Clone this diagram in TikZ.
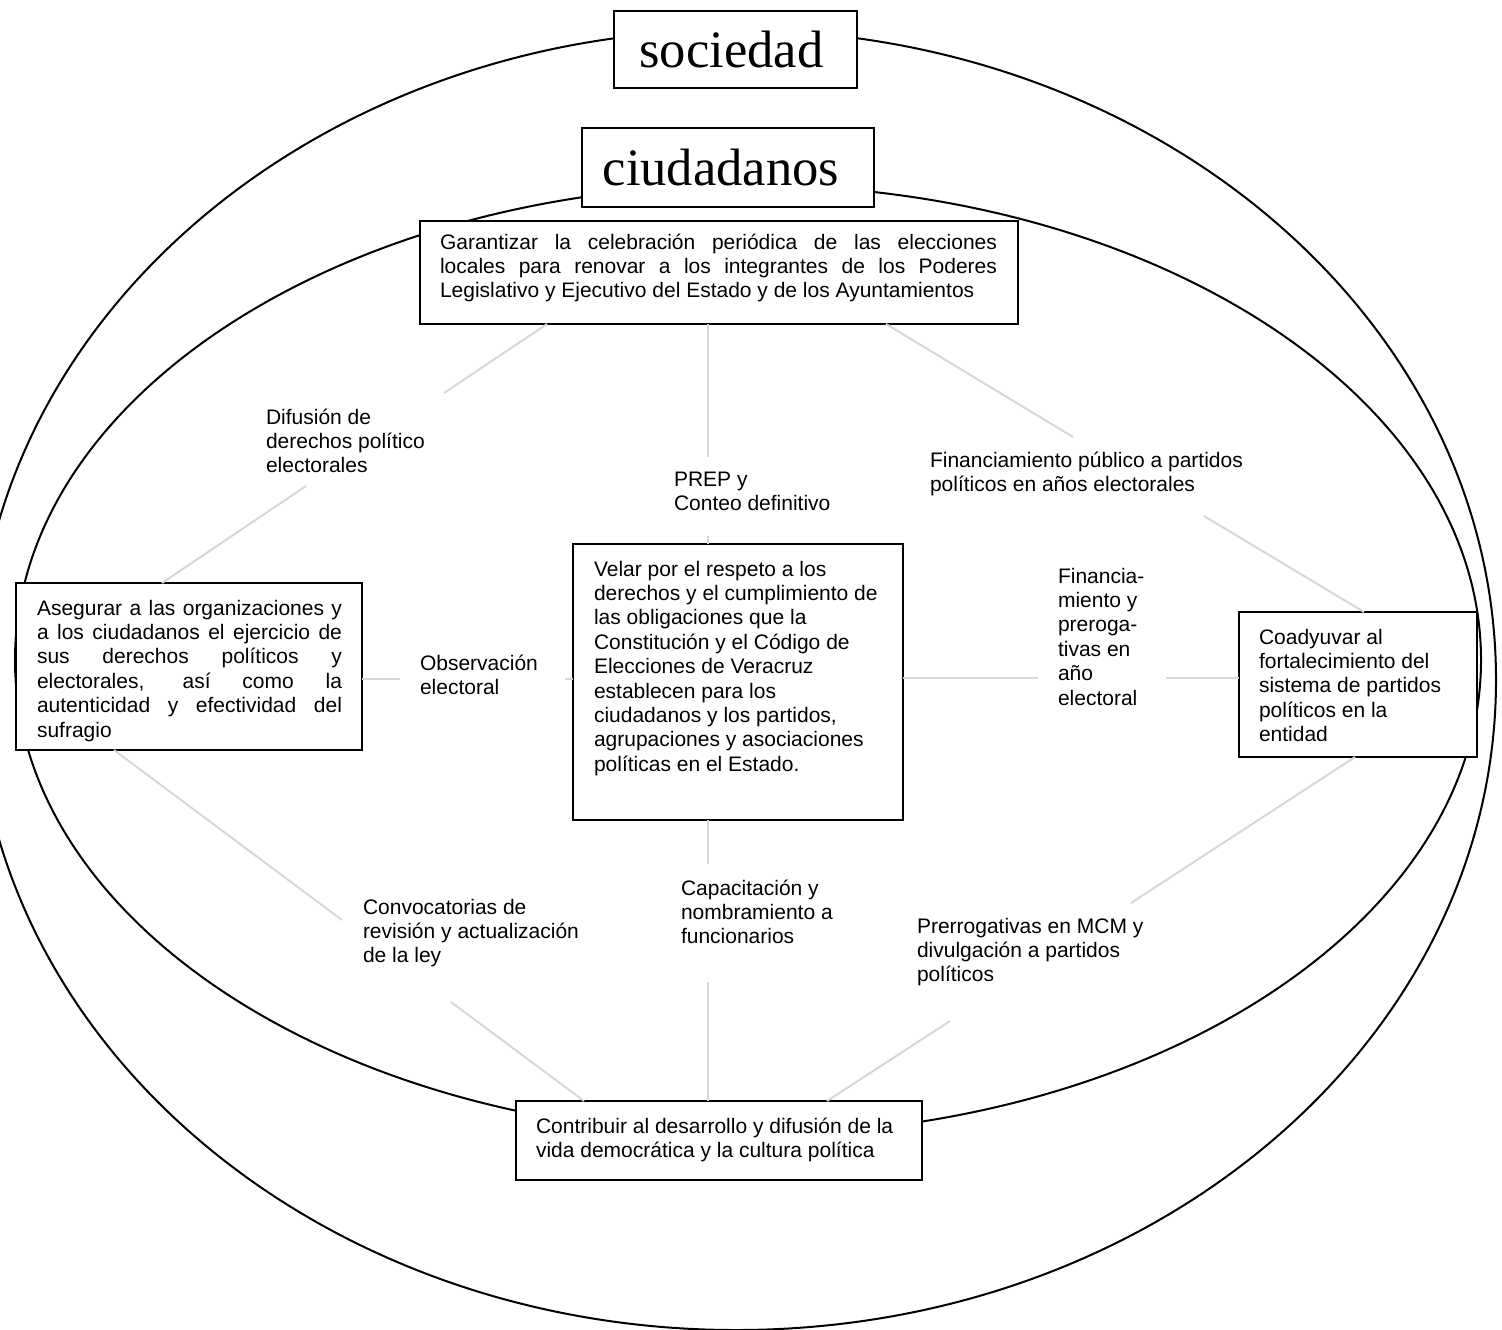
\documentclass[tikz,border=0pt]{standalone}
\usepackage{fontspec}
\setmainfont{Liberation Sans}
\newfontfamily\tmsfont{Liberation Serif}
\usetikzlibrary{calc}
\definecolor{connc}{RGB}{215,215,215}
\newcommand\fls{\rule{0pt}{10pt}}
\tolerance=10000
\hbadness=10000
\begin{document}
\begin{tikzpicture}[x=0.5pt,y=-0.5pt,
  frame/.style={draw=black, line width=1pt, fill=white, inner sep=0pt, outer sep=0pt, anchor=north west},
  txt/.style={inner sep=0pt, outer sep=0pt, anchor=north west, align=left, font=\fontsize{10.5pt}{12.2pt}\selectfont},
  jtxt/.style={txt, align=justify},
  conn/.style={draw=connc, line width=1pt},
  ring/.style={draw=black, line width=1pt},
  big/.style={font=\tmsfont\fontsize{26.3pt}{30pt}\selectfont}
]
\useasboundingbox (0,0) rectangle (1502,1329);
\fill[white] (0,0) rectangle (1502,1329);
\begin{scope}
\clip (0,0) rectangle (1502,1329);
\draw[ring] (736,680) ellipse [x radius=760, y radius=650];
\draw[ring] (748,660) ellipse [x radius=733, y radius=475];
\end{scope}

% boxes
\node[frame, minimum width=121.5pt, minimum height=38.5pt, big] (soc) at (614,11) {sociedad\hspace*{4pt}};
\node[frame, minimum width=146pt, minimum height=39.5pt, big] (ciu) at (582,128) {ciudadanos\hspace*{7pt}};
\node[frame, minimum width=299pt, minimum height=51.5pt] (gar) at (420,221) {};
\node[frame, minimum width=173pt, minimum height=83.5pt] (ase) at (16,583) {};
\node[frame, minimum width=165pt, minimum height=138pt] (vel) at (573,544) {};
\node[frame, minimum width=119pt, minimum height=72.5pt] (coa) at (1239,612) {};
\node[frame, minimum width=203pt, minimum height=39.5pt] (con) at (516,1101) {};

% free ends of the connectors (beside the labels)
\coordinate (d1) at (444,393); \coordinate (d2) at (306,486);
\coordinate (p1) at (708,457); \coordinate (p2) at (708,536);
\coordinate (f1) at (1073,437); \coordinate (f2) at (1204,516);
\coordinate (o1) at (400,679); \coordinate (o2) at (565,679);
\coordinate (n1) at (1038,678); \coordinate (n2) at (1166,678);
\coordinate (v1) at (342,920); \coordinate (v2) at (451,1002);
\coordinate (c1) at (708,864); \coordinate (c2) at (708,982);
\coordinate (r1) at (1131,903); \coordinate (r2) at (950,1021);

% connectors
\draw[conn] ($(gar.south west)+(127,0)$) -- (d1);
\draw[conn] (d2) -- ($(ase.north west)+(146,0)$);
\draw[conn] ($(gar.south west)+(288,0)$) -- (p1);
\draw[conn] (p2) -- ($(vel.north west)+(135,0)$);
\draw[conn] ($(gar.south west)+(466,0)$) -- (f1);
\draw[conn] (f2) -- ($(coa.north west)+(125,0)$);
\draw[conn] ($(ase.north east)+(0,96)$) -- (o1);
\draw[conn] (o2) -- ($(vel.north west)+(0,135)$);
\draw[conn] ($(vel.north east)+(0,134)$) -- (n1);
\draw[conn] (n2) -- ($(coa.north west)+(0,66)$);
\draw[conn] ($(ase.south west)+(98,0)$) -- (v1);
\draw[conn] (v2) -- ($(con.north west)+(68,0)$);
\draw[conn] ($(vel.south west)+(135,0)$) -- (c1);
\draw[conn] (c2) -- ($(con.north west)+(192,0)$);
\draw[conn] ($(coa.south west)+(116,0)$) -- (r1);
\draw[conn] (r2) -- ($(con.north west)+(311,0)$);

% box texts
\node[jtxt, text width=278.5pt] (gar-t) at (440,229) {\fls Garantizar la celebración periódica de las elecciones\linebreak locales para renovar a los integrantes de los Poderes\linebreak Legislativo y Ejecutivo del Estado y de los Ayuntamientos};
\node[jtxt, text width=152.5pt] (ase-t) at (37,595) {\fls Asegurar a las organizaciones y\linebreak a los ciudadanos el ejercicio de\linebreak sus derechos políticos y\linebreak electorales, así como la\linebreak autenticidad y efectividad del\linebreak sufragio};
\node[txt] (vel-t) at (594,556) {\fls Velar por el respeto a los\\derechos y el cumplimiento de\\las obligaciones que la\\Constitución y el Código de\\Elecciones de Veracruz\\establecen para los\\ciudadanos y los partidos,\\agrupaciones y asociaciones\\políticas en el Estado.};
\node[txt] (coa-t) at (1259,624) {\fls Coadyuvar al\\fortalecimiento del\\sistema de partidos\\políticos en la\\entidad};
\node[txt] (con-t) at (536,1113) {\fls Contribuir al desarrollo y difusión de la\\vida democrática y la cultura política};

% connector labels
\node[txt] (dif) at (266,404) {\fls Difusión de\\derechos político\\electorales};
\node[txt] (prep) at (674,466) {\fls PREP y\\Conteo definitivo};
\node[txt] (fpub) at (930,447) {\fls Financiamiento público a partidos\\políticos en años electorales};
\node[txt] (obs) at (420,650) {\fls Observación\\electoral};
\node[txt] (fin) at (1058,563) {\fls Financia-\\miento y\\preroga-\\tivas en\\año\\electoral};
\node[txt] (conv) at (363,894) {\fls Convocatorias de\\revisión y actualización\\de la ley};
\node[txt] (cap) at (681,875) {\fls Capacitación y\\nombramiento a\\funcionarios};
\node[txt] (prer) at (917,913) {\fls Prerrogativas en MCM y\\divulgación a partidos\\políticos};
\end{tikzpicture}
\end{document}
